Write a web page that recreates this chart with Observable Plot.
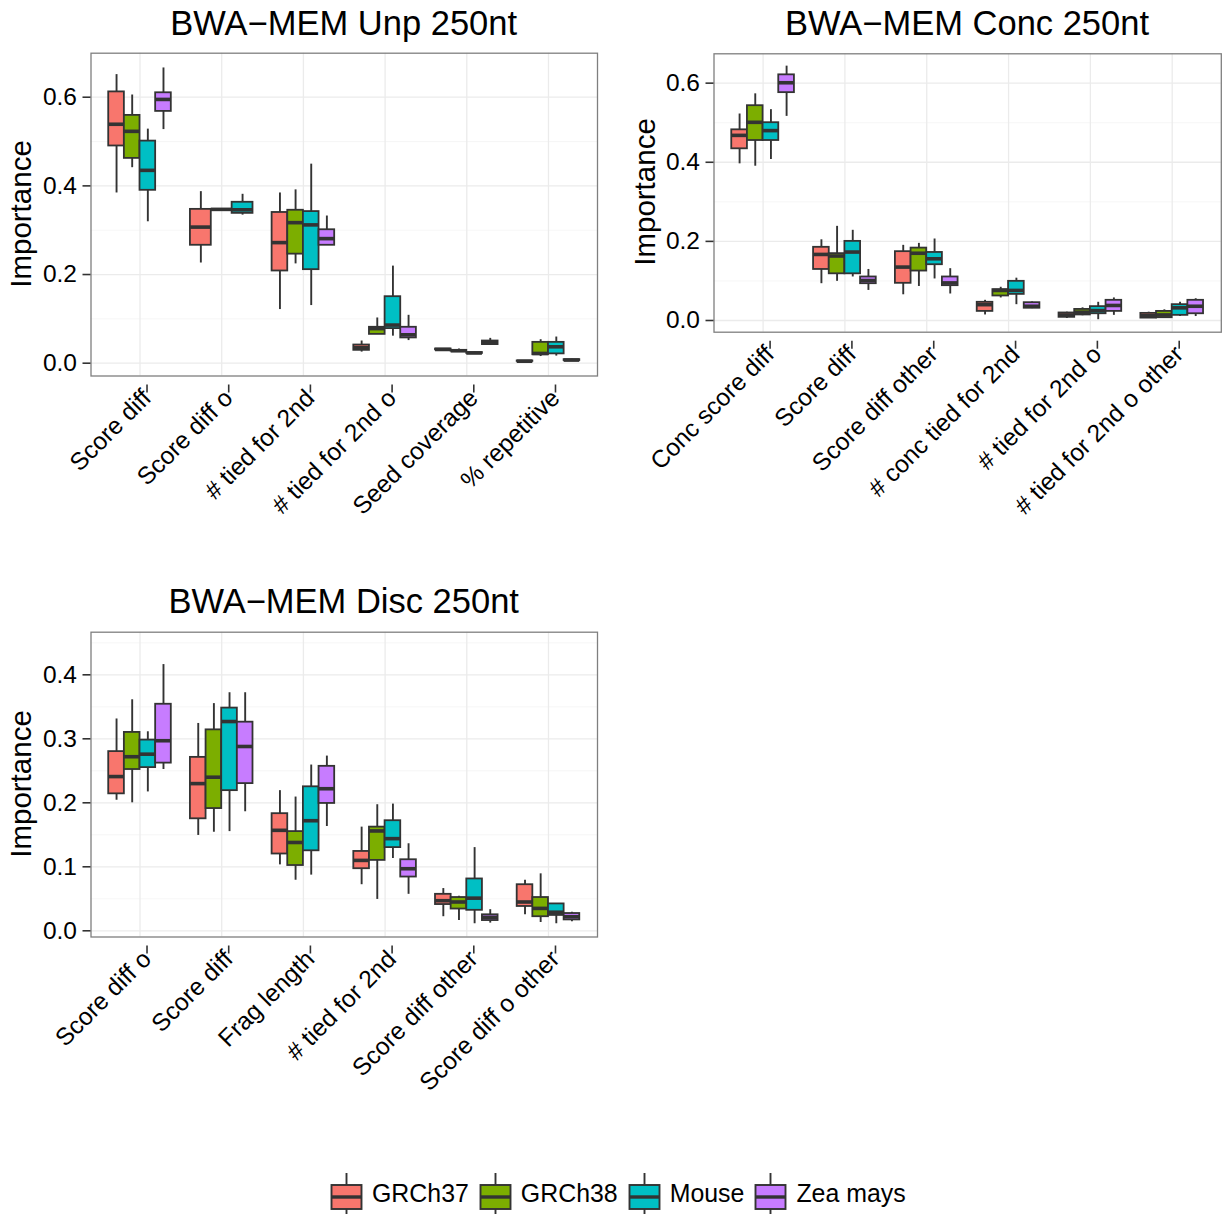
<!DOCTYPE html>
<html>
<head>
<meta charset="utf-8">
<script src="https://cdn.jsdelivr.net/npm/d3@7"></script>
<script src="https://cdn.jsdelivr.net/npm/@observablehq/plot@0.6"></script>
<style>
  html, body { margin: 0; padding: 0; background: #ffffff; }
  #root { position: relative; width: 1225px; height: 1214px; overflow: hidden; background: #fff;
          font-family: "Liberation Sans", Arial, Helvetica, sans-serif; color: #000; }
  .panel { position: absolute; }
  .title { position: absolute; font-size: 34.5px; white-space: nowrap; transform: translateX(-50%); line-height: 1; }
  .ylab { position: absolute; font-size: 29.5px; white-space: nowrap; line-height: 1;
          transform: translate(-50%, -50%) rotate(-90deg); }
  #legend { position: absolute; left: 330px; top: 1173px; display: flex; align-items: center; font-size: 24.9px; }
  #legend .item { display: flex; align-items: center; margin-right: 10px; }
  #legend svg { margin-right: 9px; }
</style>
</head>
<body>
<div id="root"></div>
<script>
// ---------------- data ----------------
const groups = ["GRCh37", "GRCh38", "Mouse", "Zea mays"];
const groupColors = ["#F8766D", "#7CAE00", "#00BFC4", "#C77CFF"];

// rows: [category, group, lower whisker, Q1, median, Q3, upper whisker]
const unpCategories = ["Score diff", "Score diff o", "# tied for 2nd", "# tied for 2nd o", "Seed coverage", "% repetitive"];
const unpStats = [
  ["Score diff", "GRCh37", 0.384, 0.490, 0.539, 0.612, 0.651],
  ["Score diff", "GRCh38", 0.441, 0.462, 0.523, 0.559, 0.605],
  ["Score diff", "Mouse", 0.319, 0.390, 0.435, 0.501, 0.528],
  ["Score diff", "Zea mays", 0.527, 0.568, 0.595, 0.610, 0.666],
  ["Score diff o", "GRCh37", 0.226, 0.266, 0.307, 0.347, 0.387],
  ["Score diff o", "GRCh38", 0.347, 0.347, 0.347, 0.347, 0.347],
  ["Score diff o", "Mouse", 0.334, 0.338, 0.346, 0.363, 0.381],
  ["# tied for 2nd", "GRCh37", 0.121, 0.208, 0.272, 0.340, 0.384],
  ["# tied for 2nd", "GRCh38", 0.224, 0.246, 0.317, 0.345, 0.391],
  ["# tied for 2nd", "Mouse", 0.130, 0.211, 0.312, 0.342, 0.449],
  ["# tied for 2nd", "Zea mays", 0.266, 0.266, 0.281, 0.301, 0.332],
  ["# tied for 2nd o", "GRCh37", 0.025, 0.029, 0.035, 0.041, 0.050],
  ["# tied for 2nd o", "GRCh38", 0.065, 0.065, 0.078, 0.081, 0.102],
  ["# tied for 2nd o", "Mouse", 0.061, 0.078, 0.086, 0.150, 0.219],
  ["# tied for 2nd o", "Zea mays", 0.051, 0.057, 0.064, 0.081, 0.108],
  ["Seed coverage", "GRCh37", 0.029, 0.030, 0.031, 0.032, 0.033],
  ["Seed coverage", "GRCh38", 0.026, 0.027, 0.028, 0.029, 0.032],
  ["Seed coverage", "Mouse", 0.021, 0.022, 0.023, 0.024, 0.025],
  ["Seed coverage", "Zea mays", 0.040, 0.042, 0.046, 0.050, 0.056],
  ["% repetitive", "GRCh37", 0.003, 0.004, 0.0045, 0.005, 0.006],
  ["% repetitive", "GRCh38", 0.015, 0.019, 0.022, 0.047, 0.053],
  ["% repetitive", "Mouse", 0.016, 0.021, 0.037, 0.047, 0.059],
  ["% repetitive", "Zea mays", 0.005, 0.006, 0.007, 0.008, 0.009]
];

const concCategories = ["Conc score diff", "Score diff", "Score diff other", "# conc tied for 2nd", "# tied for 2nd o", "# tied for 2nd o other"];
const concStats = [
  ["Conc score diff", "GRCh37", 0.396, 0.434, 0.468, 0.482, 0.522],
  ["Conc score diff", "GRCh38", 0.390, 0.455, 0.501, 0.543, 0.573],
  ["Conc score diff", "Mouse", 0.407, 0.455, 0.480, 0.500, 0.533],
  ["Conc score diff", "Zea mays", 0.516, 0.576, 0.601, 0.621, 0.643],
  ["Score diff", "GRCh37", 0.093, 0.129, 0.167, 0.185, 0.204],
  ["Score diff", "GRCh38", 0.099, 0.118, 0.163, 0.169, 0.238],
  ["Score diff", "Mouse", 0.110, 0.118, 0.173, 0.200, 0.228],
  ["Score diff", "Zea mays", 0.076, 0.093, 0.101, 0.110, 0.129],
  ["Score diff other", "GRCh37", 0.065, 0.094, 0.135, 0.174, 0.190],
  ["Score diff other", "GRCh38", 0.086, 0.125, 0.170, 0.183, 0.195],
  ["Score diff other", "Mouse", 0.105, 0.141, 0.156, 0.172, 0.206],
  ["Score diff other", "Zea mays", 0.067, 0.088, 0.095, 0.110, 0.131],
  ["# conc tied for 2nd", "GRCh37", 0.014, 0.023, 0.040, 0.046, 0.051],
  ["# conc tied for 2nd", "GRCh38", 0.057, 0.062, 0.076, 0.078, 0.084],
  ["# conc tied for 2nd", "Mouse", 0.040, 0.066, 0.076, 0.099, 0.107],
  ["# conc tied for 2nd", "Zea mays", 0.030, 0.031, 0.036, 0.045, 0.047],
  ["# tied for 2nd o", "GRCh37", 0.005, 0.008, 0.014, 0.019, 0.021],
  ["# tied for 2nd o", "GRCh38", 0.012, 0.014, 0.021, 0.028, 0.032],
  ["# tied for 2nd o", "Mouse", 0.002, 0.017, 0.025, 0.035, 0.046],
  ["# tied for 2nd o", "Zea mays", 0.013, 0.023, 0.038, 0.051, 0.057],
  ["# tied for 2nd o other", "GRCh37", 0.006, 0.006, 0.012, 0.018, 0.021],
  ["# tied for 2nd o other", "GRCh38", 0.007, 0.007, 0.014, 0.023, 0.027],
  ["# tied for 2nd o other", "Mouse", 0.010, 0.013, 0.032, 0.040, 0.046],
  ["# tied for 2nd o other", "Zea mays", 0.010, 0.017, 0.036, 0.051, 0.055]
];

const discCategories = ["Score diff o", "Score diff", "Frag length", "# tied for 2nd", "Score diff other", "Score diff o other"];
const discStats = [
  ["Score diff o", "GRCh37", 0.204, 0.214, 0.241, 0.280, 0.331],
  ["Score diff o", "GRCh38", 0.200, 0.252, 0.272, 0.310, 0.361],
  ["Score diff o", "Mouse", 0.217, 0.255, 0.276, 0.298, 0.311],
  ["Score diff o", "Zea mays", 0.252, 0.262, 0.297, 0.354, 0.416],
  ["Score diff", "GRCh37", 0.149, 0.175, 0.230, 0.271, 0.324],
  ["Score diff", "GRCh38", 0.154, 0.191, 0.240, 0.314, 0.355],
  ["Score diff", "Mouse", 0.155, 0.219, 0.327, 0.348, 0.372],
  ["Score diff", "Zea mays", 0.186, 0.230, 0.288, 0.326, 0.372],
  ["Frag length", "GRCh37", 0.103, 0.120, 0.157, 0.183, 0.219],
  ["Frag length", "GRCh38", 0.079, 0.102, 0.138, 0.155, 0.209],
  ["Frag length", "Mouse", 0.087, 0.125, 0.172, 0.225, 0.259],
  ["Frag length", "Zea mays", 0.163, 0.199, 0.222, 0.257, 0.273],
  ["# tied for 2nd", "GRCh37", 0.072, 0.097, 0.110, 0.124, 0.162],
  ["# tied for 2nd", "GRCh38", 0.049, 0.110, 0.156, 0.162, 0.197],
  ["# tied for 2nd", "Mouse", 0.113, 0.130, 0.144, 0.172, 0.198],
  ["# tied for 2nd", "Zea mays", 0.057, 0.084, 0.097, 0.111, 0.136],
  ["Score diff other", "GRCh37", 0.022, 0.041, 0.047, 0.057, 0.066],
  ["Score diff other", "GRCh38", 0.016, 0.034, 0.045, 0.052, 0.054],
  ["Score diff other", "Mouse", 0.011, 0.032, 0.051, 0.081, 0.130],
  ["Score diff other", "Zea mays", 0.012, 0.016, 0.021, 0.025, 0.033],
  ["Score diff o other", "GRCh37", 0.025, 0.038, 0.045, 0.072, 0.079],
  ["Score diff o other", "GRCh38", 0.013, 0.022, 0.035, 0.052, 0.089],
  ["Score diff o other", "Mouse", 0.011, 0.024, 0.029, 0.042, 0.042],
  ["Score diff o other", "Zea mays", 0.014, 0.017, 0.022, 0.027, 0.029]
];

// ---------------- drawing ----------------
const FONT = '"Liberation Sans", Arial, Helvetica, sans-serif';
const DODGE_TOTAL = 0.766;
const TICK_FONT = 24.5;

function toRows(categories, stats) {
  const rows = [];
  for (const [ci, cat] of categories.entries()) {
    const present = stats.filter(r => r[0] === cat);
    const n = present.length, w = DODGE_TOTAL / n;
    present.forEach((r, i) => {
      const xc = ci + 1 + (i - (n - 1) / 2) * w;
      rows.push({cat, group: r[1], lo: r[2], q1: r[3], med: r[4], q3: r[5], hi: r[6],
                 xc, x1: xc - w / 2, x2: xc + w / 2});
    });
  }
  return rows;
}

function panel({categories, stats, yDomain, majors, minors, width, height, mt, mb, ml, mr}) {
  const rows = toRows(categories, stats);
  const idx = d3.range(1, categories.length + 1);
  return Plot.plot({
    width, height,
    marginTop: mt, marginBottom: mb, marginLeft: ml, marginRight: mr,
    style: {fontFamily: FONT, fontSize: TICK_FONT + "px", color: "#000", background: "transparent", overflow: "visible"},
    x: {type: "linear", domain: [0.4, categories.length + 0.6]},
    y: {domain: yDomain},
    color: {domain: groups, range: groupColors},
    marks: [
      Plot.gridY({ticks: minors, stroke: "#f2f2f2", strokeOpacity: 1, strokeWidth: 0.7}),
      Plot.gridY({ticks: majors, stroke: "#ebebeb", strokeOpacity: 1, strokeWidth: 1.3}),
      Plot.gridX({ticks: idx, stroke: "#ebebeb", strokeOpacity: 1, strokeWidth: 1.3}),
      Plot.ruleX(rows, {x: "xc", y1: "lo", y2: "hi", stroke: "#333333", strokeWidth: 1.9}),
      Plot.rect(rows, {x1: "x1", x2: "x2", y1: "q1", y2: "q3", fill: "group", stroke: "#333333", strokeWidth: 1.8}),
      Plot.ruleY(rows, {y: "med", x1: "x1", x2: "x2", stroke: "#333333", strokeWidth: 3.6}),
      Plot.frame({stroke: "#7f7f7f", strokeWidth: 1.3}),
      Plot.axisY({ticks: majors, tickFormat: d3.format(".1f"), tickSize: 8, tickPadding: 6,
                  fontSize: TICK_FONT, strokeWidth: 1.6, stroke: "#333", label: null}),
      Plot.axisX({ticks: idx, tickFormat: i => categories[i - 1], tickRotate: -45, tickSize: 8, tickPadding: 1,
                  fontSize: TICK_FONT, strokeWidth: 1.6, stroke: "#333", label: null, dx: 7, dy: 9})
    ]
  });
}

const root = document.getElementById("root");
function place(el, left, top) {
  const wrap = document.createElement("div");
  wrap.className = "panel";
  wrap.style.left = left + "px";
  wrap.style.top = top + "px";
  wrap.appendChild(el);
  root.appendChild(wrap);
}
function addText(cls, text, left, top) {
  const d = document.createElement("div");
  d.className = cls;
  d.textContent = text;
  d.style.left = left + "px";
  d.style.top = top + "px";
  root.appendChild(d);
}

// Panel 1: unpaired (plot area x 90.5–597, y 52.7–375.5)
place(panel({categories: unpCategories, stats: unpStats, yDomain: [-0.0289, 0.6993],
  majors: [0, 0.2, 0.4, 0.6], minors: [0.1, 0.3, 0.5],
  width: 612, height: 560, mt: 52.7, mb: 560 - 375.5, ml: 90.5, mr: 15}), 0, 0);
// Panel 2: concordant (plot area x 713.5–1220.8, y 53.3–331.7)
place(panel({categories: concCategories, stats: concStats, yDomain: [-0.0296, 0.6742],
  majors: [0, 0.2, 0.4, 0.6], minors: [0.1, 0.3, 0.5],
  width: 613, height: 560, mt: 53.3, mb: 560 - 331.7, ml: 101.5, mr: 613 - (1220.8 - 612)}), 612, 0);
// Panel 3: discordant (plot area x 90.5–597, y 631.7–936.5); svg top at 560
place(panel({categories: discCategories, stats: discStats, yDomain: [-0.0097, 0.4666],
  majors: [0, 0.1, 0.2, 0.3, 0.4], minors: [0.05, 0.15, 0.25, 0.35, 0.45],
  width: 612, height: 560, mt: 631.7 - 560, mb: 560 - (936.5 - 560), ml: 90.5, mr: 15}), 0, 560);

addText("title", "BWA\u2212MEM Unp 250nt", 343.7, 6);
addText("title", "BWA\u2212MEM Conc 250nt", 967, 6);
addText("title", "BWA\u2212MEM Disc 250nt", 343.7, 584);
addText("ylab", "Importance", 21, 214);
addText("ylab", "Importance", 645, 192);
addText("ylab", "Importance", 21, 784);

// Legend
const legend = document.createElement("div");
legend.id = "legend";
groups.forEach((g, i) => {
  const item = document.createElement("div");
  item.className = "item";
  const svg = d3.create("svg").attr("width", 33).attr("height", 41);
  svg.append("line").attr("x1", 16.5).attr("x2", 16.5).attr("y1", 0).attr("y2", 41)
     .attr("stroke", "#333").attr("stroke-width", 1.9);
  svg.append("rect").attr("x", 1.5).attr("y", 12).attr("width", 30).attr("height", 24)
     .attr("fill", groupColors[i]).attr("stroke", "#333").attr("stroke-width", 1.9);
  svg.append("line").attr("x1", 1.5).attr("x2", 31.5).attr("y1", 24).attr("y2", 24)
     .attr("stroke", "#333").attr("stroke-width", 3.4);
  item.appendChild(svg.node());
  const span = document.createElement("span");
  span.textContent = g;
  item.appendChild(span);
  legend.appendChild(item);
});
root.appendChild(legend);
</script>
</body>
</html>
